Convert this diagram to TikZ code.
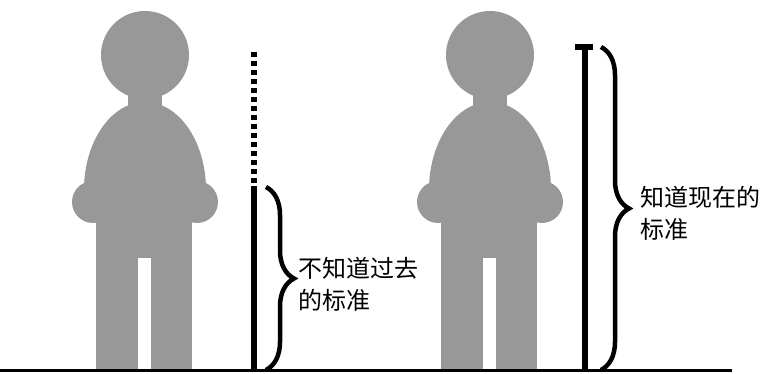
\documentclass[tikz,border=0pt]{standalone}
\usepackage{fontspec}
\newfontfamily\cjk{Noto Sans CJK SC}
\usepackage{tikz}
\usetikzlibrary{decorations.pathreplacing,positioning}
\definecolor{bodygray}{RGB}{152,152,152}

\tikzset{
  ruler/.style={line width=5.5pt},
  bracket/.style={decorate, decoration={brace, amplitude=28pt}, line width=4.5pt},
  caption/.style={font=\cjk\fontsize{24}{32}\selectfont, align=left, anchor=west, inner sep=0pt}
}

% one standing person, #1 = centre line
\newcommand{\drawperson}[1]{%
  \begin{scope}[shift={(#1,0)}, bodygray]
    \fill (0,55) circle[radius=44];
    \fill (-17,88) rectangle (17,112);
    \fill (-61,190) arc[start angle=180, end angle=360, x radius=61, y radius=88] -- (61,212) -- (-61,212) -- cycle;
    \fill (-52,202) circle[radius=21];
    \fill (52,202) circle[radius=21];
    \fill (-49,190) rectangle (47,258);
    \fill (-49,258) rectangle (-7,370);
    \fill (6,258) rectangle (47,370);
  \end{scope}}

\begin{document}
\begin{tikzpicture}[x=1pt, y=-1pt]
        \useasboundingbox (0,0) rectangle (764,374);
        \drawperson{145}
        \drawperson{490}

        \coordinate (oldtop) at (254,52);
        \coordinate (oldmid) at (254,186);
        \coordinate (oldfoot) at (254,370);
        \coordinate (oldbtop) at (266,187);
        \coordinate (oldbbot) at (266,370);
        \node[caption] (oldtext) at (298,284) {不知道过去\\的标准};
        \draw[ruler, dash pattern=on 5pt off 4pt] (oldtop) -- (oldmid);
        \draw[ruler] (oldmid) -- (oldfoot);
        \draw[bracket] (oldbtop) -- (oldbbot);

        \coordinate (nowtop) at (585,47);
        \coordinate (nowfoot) at (585,370);
        \coordinate (nowbtop) at (601,47);
        \coordinate (nowbbot) at (601,370);
        \node[caption] (nowtext) at (640,213) {知道现在的\\标准};
        \draw[ruler] (nowtop) -- (nowfoot);
        \draw[ruler, line width=6pt] ([xshift=-10pt]nowtop) -- ([xshift=8pt]nowtop);
        \draw[bracket] (nowbtop) -- (nowbbot);

        \coordinate (groundL) at (0,370.5);
        \coordinate (groundR) at (732,370.5);
        \draw[line width=3pt] (groundL) -- (groundR);
    \end{tikzpicture}
\end{document}
